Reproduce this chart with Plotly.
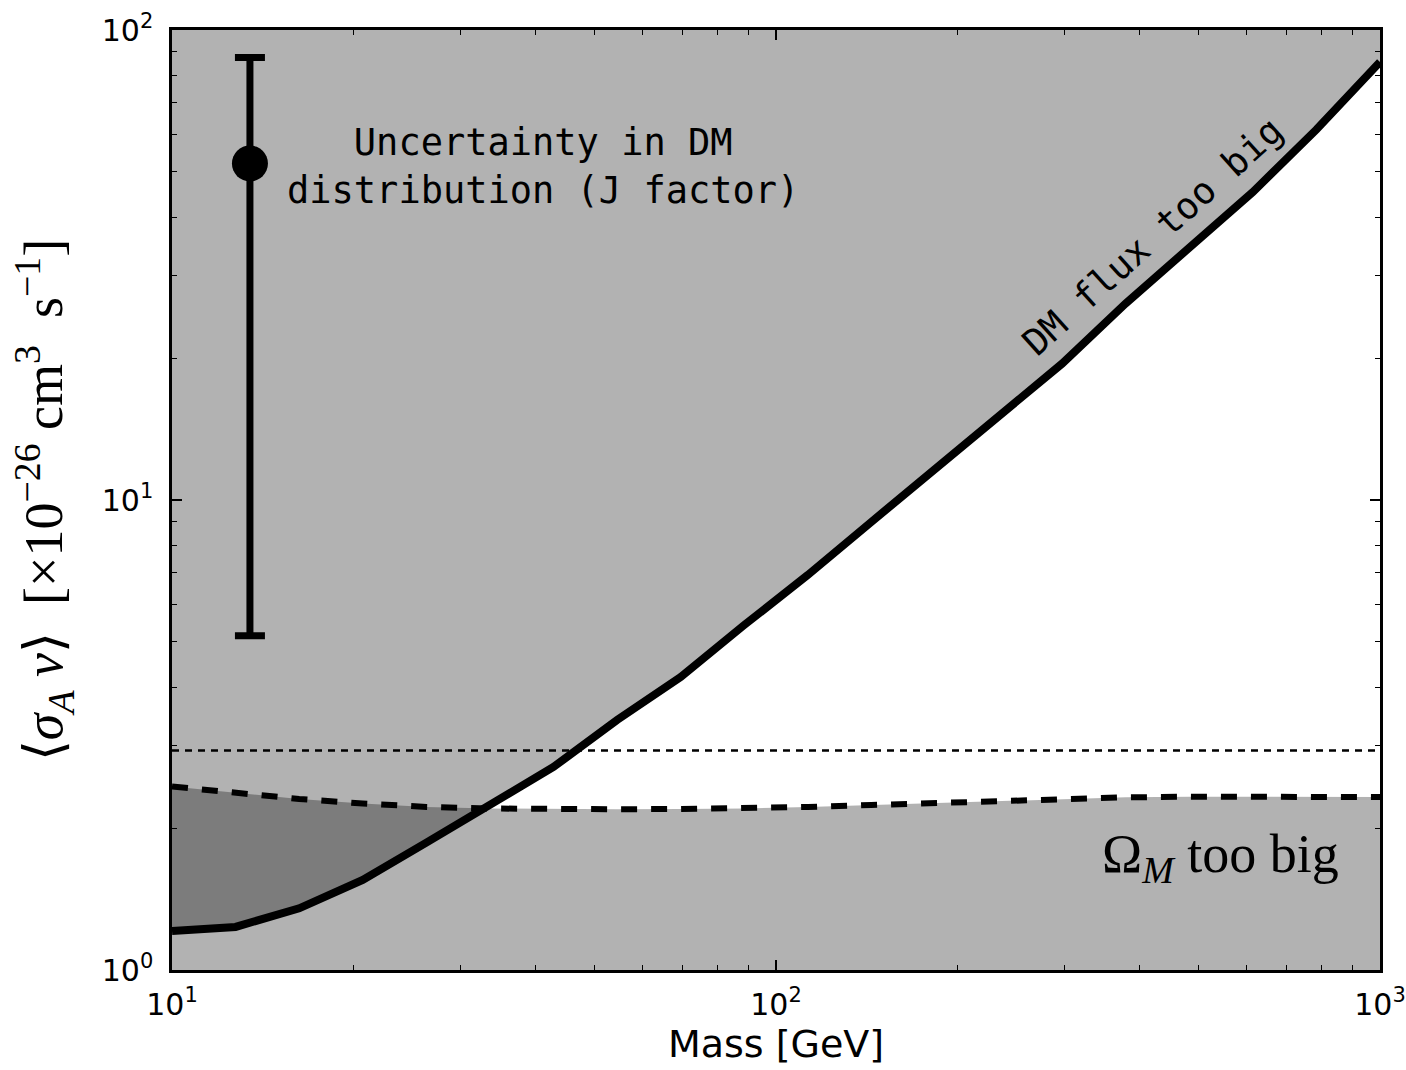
import numpy as np
import plotly.graph_objects as go

# ---------------- data ----------------
mass = [10.0, 12.74, 16.24, 20.69, 26.37, 33.60, 42.81, 54.56, 69.52, 88.59,
        112.9, 143.8, 183.3, 233.6, 297.6, 379.3, 483.3, 615.8, 784.8, 1000.0]
flux_limit = [1.21, 1.235, 1.353, 1.554, 1.866, 2.234, 2.703, 3.403, 4.202, 5.42,
              6.925, 8.98, 11.61, 15.05, 19.5, 26.2, 34.4, 45.2, 61.4, 85.5]
relic_limit = [2.457, 2.380, 2.312, 2.261, 2.223, 2.206, 2.198, 2.198, 2.201, 2.206,
               2.223, 2.244, 2.267, 2.289, 2.312, 2.330, 2.337, 2.337, 2.334, 2.334]
thermal_xs = 2.93
y_top = 100.0
y_bottom = 1.0

errbar_mass = [13.46]
errbar_center = [52.0]
errbar_high = [87.4]
errbar_low = [5.14]

x_tickvals = [10, 100, 1000]
x_ticktext = ["10<sup>1</sup>", "10<sup>2</sup>", "10<sup>3</sup>"]
y_tickvals = [1, 10, 100]
y_ticktext = ["10<sup>0</sup>", "10<sup>1</sup>", "10<sup>2</sup>"]

fig = go.Figure()

# region above DM flux limit
fig.add_trace(go.Scatter(
    x=mass + mass[::-1], y=flux_limit + [y_top] * len(mass),
    fill="toself", fillcolor="rgba(0,0,0,0.3)", line=dict(width=0),
    mode="lines", hoverinfo="skip", showlegend=False))
# region below relic limit
fig.add_trace(go.Scatter(
    x=mass + mass[::-1], y=relic_limit + [y_bottom] * len(mass),
    fill="toself", fillcolor="rgba(0,0,0,0.3)", line=dict(width=0),
    mode="lines", hoverinfo="skip", showlegend=False))

# thermal cross-section dotted line
fig.add_trace(go.Scatter(
    x=[mass[0], mass[-1]], y=[thermal_xs, thermal_xs], mode="lines",
    line=dict(color="black", width=2.5, dash="7px,6px"), showlegend=False))

# relic dashed line
fig.add_trace(go.Scatter(
    x=mass, y=relic_limit, mode="lines",
    line=dict(color="black", width=6, dash="16px,14px"), showlegend=False))

# flux limit solid line
fig.add_trace(go.Scatter(
    x=mass, y=flux_limit, mode="lines",
    line=dict(color="black", width=8), showlegend=False))

# error bar
fig.add_trace(go.Scatter(
    x=errbar_mass, y=errbar_center, mode="markers",
    marker=dict(color="black", size=36),
    error_y=dict(type="data", symmetric=False,
                 array=[errbar_high[0] - errbar_center[0]],
                 arrayminus=[errbar_center[0] - errbar_low[0]],
                 color="black", thickness=7, width=15),
    showlegend=False))

mono = "DejaVu Sans Mono"
fig.add_annotation(xref="paper", yref="paper", x=0.307, y=0.855,
                   xanchor="center", yanchor="middle",
                   text="Uncertainty in DM<br>distribution (J factor)",
                   showarrow=False, font=dict(family=mono, size=37, color="black"),
                   align="center")
fig.add_annotation(xref="paper", yref="paper", x=0.812, y=0.78,
                   xanchor="center", yanchor="middle",
                   text="DM flux too big", textangle=-42,
                   showarrow=False, font=dict(family=mono, size=37, color="black"))
fig.add_annotation(xref="paper", yref="paper", x=0.868, y=0.12,
                   xanchor="center", yanchor="middle",
                   text="Ω<sub><i>M</i></sub> too big",
                   showarrow=False, font=dict(family="Liberation Serif", size=54, color="black"))

axis_common = dict(
    type="log", showline=True, linecolor="black", linewidth=2.5, mirror="allticks",
    ticks="inside", ticklen=10, tickwidth=1.5, tickcolor="black",
    showgrid=False, zeroline=False, automargin=False,
    tickfont=dict(family="DejaVu Sans", size=30, color="black"),
    minor=dict(ticks="inside", ticklen=5, tickwidth=1, tickcolor="black",
               showgrid=False, dtick="D1"),
)

fig.update_layout(
    width=1406, height=1070,
    margin=dict(l=172, r=26, t=30, b=100),
    plot_bgcolor="white", paper_bgcolor="white",
    xaxis=dict(axis_common, range=[1, 3], tickvals=x_tickvals, ticktext=x_ticktext,
               ticklabelstandoff=6,
               title=dict(text="Mass [GeV]", font=dict(family="DejaVu Sans", size=38, color="black"),
                          standoff=10)),
    yaxis=dict(axis_common, range=[0, 2], tickvals=y_tickvals, ticktext=y_ticktext,
               ticklabelstandoff=10,
               title=dict(text="⟨<i>σ</i><sub><i>A</i></sub> <i>v</i>⟩ \u00a0[×10<sup>−26</sup>\u00a0cm<sup>3</sup> \u00a0s<sup>−1</sup>]",
                          font=dict(family="Liberation Serif", size=54, color="black"),
                          standoff=22)),
)

fig.write_html("out.html")
